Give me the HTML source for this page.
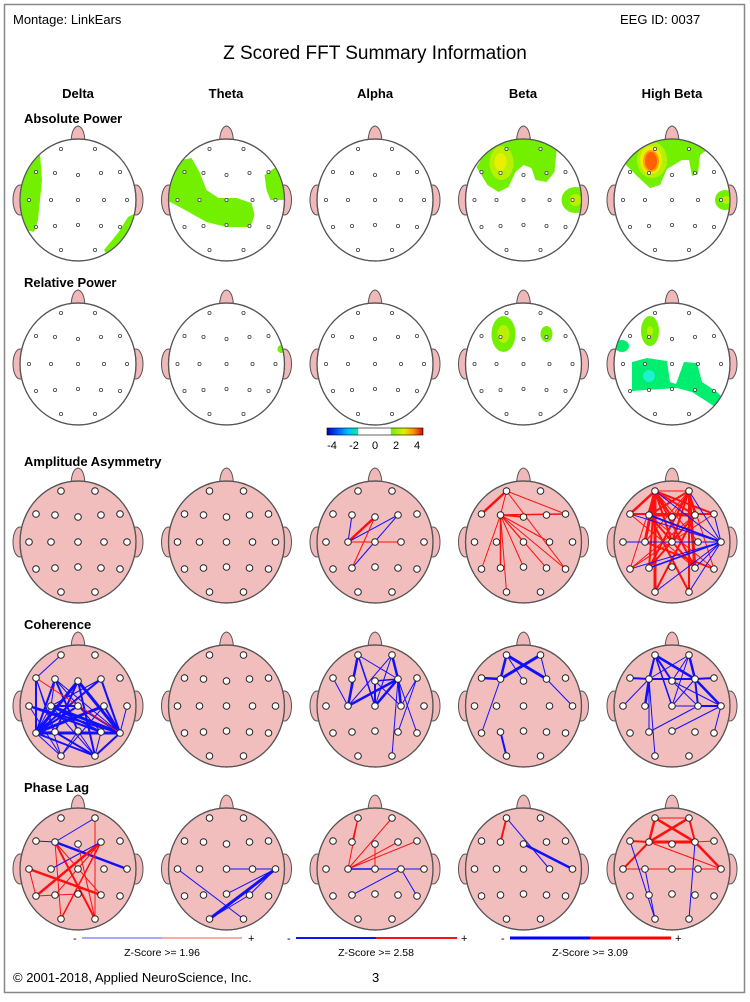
<!DOCTYPE html>
<html><head><meta charset="utf-8">
<style>
html,body{margin:0;padding:0;background:#fff;}
body{width:750px;height:997px;overflow:hidden;font-family:"Liberation Sans",sans-serif;}
</style></head>
<body>
<svg id="s" width="750" height="997" viewBox="0 0 750 997" xmlns="http://www.w3.org/2000/svg" font-family="Liberation Sans, sans-serif">
<rect x="4.5" y="4.5" width="740" height="988" fill="#fff" stroke="#888" stroke-width="1.5"/>
<text x="13" y="24" font-size="13">Montage:  LinkEars</text>
<text x="620" y="24" font-size="13">EEG ID:  0037</text>
<text x="375" y="59" font-size="19" text-anchor="middle">Z Scored FFT Summary Information</text>
<g font-size="13" font-weight="bold" text-anchor="middle">
<text x="78" y="98">Delta</text><text x="226" y="98">Theta</text><text x="375" y="98">Alpha</text><text x="523" y="98">Beta</text><text x="672" y="98">High Beta</text>
</g>
<g font-size="13" font-weight="bold">
<text x="24" y="123">Absolute Power</text>
<text x="24" y="287">Relative Power</text>
<text x="24" y="466">Amplitude Asymmetry</text>
<text x="24" y="629">Coherence</text>
<text x="24" y="792">Phase Lag</text>
</g>
<g id="heads"></g>
<defs><linearGradient id="cb" x1="0" x2="1">
<stop offset="0" stop-color="#0000c8"/><stop offset="0.12" stop-color="#0060ff"/><stop offset="0.22" stop-color="#00c0ff"/><stop offset="0.32" stop-color="#00e8a0"/><stop offset="0.33" stop-color="#fff"/><stop offset="0.66" stop-color="#fff"/><stop offset="0.67" stop-color="#70f000"/><stop offset="0.8" stop-color="#e0f000"/><stop offset="0.9" stop-color="#ff9000"/><stop offset="1" stop-color="#e00000"/>
</linearGradient></defs>
<rect x="327" y="428" width="96" height="7" fill="url(#cb)" stroke="#000" stroke-width="0.6"/>
<g font-size="11" text-anchor="middle"><text x="332" y="449">-4</text><text x="354" y="449">-2</text><text x="375" y="449">0</text><text x="396" y="449">2</text><text x="417" y="449">4</text></g>
<g font-size="11">
<text x="73" y="942">-</text><line x1="82" y1="938" x2="162" y2="938" stroke="#5050ff" stroke-width="1"/><line x1="162" y1="938" x2="242" y2="938" stroke="#ff5050" stroke-width="1"/><text x="248" y="942">+</text>
<text x="162" y="956" text-anchor="middle" font-size="10.5">Z-Score &gt;= 1.96</text>
<text x="287" y="942">-</text><line x1="296" y1="938" x2="376" y2="938" stroke="#1010ff" stroke-width="2"/><line x1="376" y1="938" x2="457" y2="938" stroke="#ff1010" stroke-width="2"/><text x="461" y="942">+</text>
<text x="376" y="956" text-anchor="middle" font-size="10.5">Z-Score &gt;= 2.58</text>
<text x="501" y="942">-</text><line x1="510" y1="938" x2="590" y2="938" stroke="#0000ff" stroke-width="3"/><line x1="590" y1="938" x2="671" y2="938" stroke="#ff0000" stroke-width="3"/><text x="675" y="942">+</text>
<text x="590" y="956" text-anchor="middle" font-size="10.5">Z-Score &gt;= 3.09</text>
</g>
<text x="13" y="982" font-size="13">© 2001-2018, Applied NeuroScience, Inc.</text>
<text x="372" y="982" font-size="13">3</text>
</svg>
<script>
var E=[[-17,-51],[17,-51],[-42,-28],[-23,-27],[0,-25],[23,-27],[42,-28],[-49,0],[-27,0],[0,0],[26,0],[49,0],[-42,27],[-23,26],[0,25],[23,26],[42,27],[-17,50],[17,50]];
var N={Fp1:0,Fp2:1,F7:2,F3:3,Fz:4,F4:5,F8:6,T3:7,C3:8,Cz:9,C4:10,T4:11,T5:12,P3:13,Pz:14,P4:15,T6:16,O1:17,O2:18};
var CX=[78,226.5,375,523.5,672], RX=58, RY=61;
var html='';var cid=0;
function head(cx,cy,pink,inner,conn){
 var f=pink?'#f2bdbd':'#fff';cid++;
 var s='';
 s+='<ellipse cx="'+(cx-RX)+'" cy="'+cy+'" rx="7" ry="15" fill="#f0b8b8" stroke="#555" stroke-width="1"/>';
 s+='<ellipse cx="'+(cx+RX)+'" cy="'+cy+'" rx="7" ry="15" fill="#f0b8b8" stroke="#555" stroke-width="1"/>';
 s+='<path d="M'+(cx-7)+','+(cy-RY+2)+' Q'+(cx-6)+','+(cy-RY-12)+' '+cx+','+(cy-RY-13)+' Q'+(cx+6)+','+(cy-RY-12)+' '+(cx+7)+','+(cy-RY+2)+' Z" fill="#f0b8b8" stroke="#555" stroke-width="1"/>';
 s+='<clipPath id="c'+cid+'"><ellipse cx="'+cx+'" cy="'+cy+'" rx="'+RX+'" ry="'+RY+'"/></clipPath>';
 s+='<ellipse cx="'+cx+'" cy="'+cy+'" rx="'+RX+'" ry="'+RY+'" fill="'+f+'" stroke="#555" stroke-width="1.2"/>';
 s+='<g clip-path="url(#c'+cid+')"><g transform="translate('+cx+','+cy+')">'+(inner||'')+'</g></g>';
 s+='<ellipse cx="'+cx+'" cy="'+cy+'" rx="'+RX+'" ry="'+RY+'" fill="none" stroke="#555" stroke-width="1.2"/>';
 if(conn){
  conn.forEach(function(c){var a=E[N[c[0]]],b=E[N[c[1]]];var col=c[2]=='b'?'#1010ff':'#ff1010';
   s+='<line x1="'+(cx+a[0])+'" y1="'+(cy+a[1])+'" x2="'+(cx+b[0])+'" y2="'+(cy+b[1])+'" stroke="'+col+'" stroke-width="'+c[3]+'"/>';});
 }
 E.forEach(function(e){
  if(pink) s+='<circle cx="'+(cx+e[0])+'" cy="'+(cy+e[1])+'" r="3.3" fill="#fff" stroke="#222" stroke-width="1"/>';
  else s+='<circle cx="'+(cx+e[0])+'" cy="'+(cy+e[1])+'" r="1.6" fill="#fff" stroke="#444" stroke-width="0.8"/>';
 });
 return s;
}
var G='#72f000',Y='#e8f000',LY='#b8f000',O='#ff6000',GC='#00ee70';
function P(d,c){return '<path d="'+d+'" fill="'+c+'"/>';}
function El(x,y,rx,ry,c){return '<ellipse cx="'+x+'" cy="'+y+'" rx="'+rx+'" ry="'+ry+'" fill="'+c+'"/>';}
var abs=[
 P('M-60,-30 L-45,-50 L-38,-46 L-36,-20 L-40,20 L-44,32 L-60,28 Z',G)+P('M60,12 L50,17 L40,33 L26,50 L32,60 L60,42 Z',G),
 P('M-60,-35 L-45,-40 L-35,-42 L-27,-28 L-20,-10 L-8,-2 L10,-2 L25,3 L28,15 L24,27 L0,27 L-20,22 L-45,8 L-60,0 Z',G)+P('M38,-25 L48,-32 L60,-25 L60,0 L44,0 L40,-10 Z',G),
 '',
 P('M-47,-33 L-30,-60 L32,-62 L33,-48 L31,-28 L23,-18 L12,-20 L8,-32 L0,-35 L-8,-28 L-15,-13 L-25,-8 L-36,-15 Z',G)+El(-22,-37,12,17,LY)+El(-23,-38,6,9,Y)+El(52,0,14,13,G)+El(52,0,6,6,LY),
 P('M-47,-36 L-28,-60 L30,-62 L38,-52 L28,-45 L26,-26 L20,-24 L17,-40 L10,-40 L-5,-31 L-12,-15 L-22,-12 L-34,-23 Z',G)+El(-20,-40,15,18,LY)+El(-21,-40,11,14,Y)+El(-21,-39,8,11,'#ffa000')+El(-21,-39,6,9,O)+El(53,0,10,10,G)+El(54,0,4,4,LY)
];
var rel=[
 '',
 El(55,-15,4,4,G),
 '',
 El(-20,-30,12,18,G)+El(-20,-30,6,9,LY)+El(23,-30,6,8,G),
 El(-22,-33,9,15,G)+El(-22,-33,3,5,LY)+El(-50,-18,7,6,GC)+P('M-40,-2 L-25,-6 L-5,-3 L-2,18 L4,20 L12,-2 L25,-1 L30,18 L45,28 L55,38 L45,44 L20,28 L5,24 L-40,27 Z',GC)+El(-23,12,6,6,'#20f0d0')
];
function L(str){return str.trim().split(/\s*;\s*/).filter(Boolean).map(function(x){var p=x.split(/\s+/);return [p[0],p[1],p[2],+p[3]];});}
var asym=[[],[],
 L('C3 F3 b 1;C3 Fz r 2.5;C3 F4 b 1;C3 C4 r 1;P3 F4 b 1;P3 Fz r 1;C3 Cz r 1'),
 L('Fp1 F7 r 2.5;Fp1 F3 r 1;Fp1 F8 r 1;F3 F8 r 1.5;F3 T5 r 1;F3 P3 r 1.5;F3 O1 r 1;F3 Pz r 1;F3 P4 r 1;F3 T6 r 1;F3 C4 r 1;Fp1 T6 r 1;F3 Cz r 1;F3 Fz r 1.5'),
 L('Fp1 F7 r 2.5;Fp1 F3 r 3;Fp1 Fz r 2;Fp1 F4 r 2;Fp1 F8 r 2;Fp1 Fp2 r 1;Fp2 F3 r 2;Fp2 F4 r 2;Fp2 Fz r 1;F7 F8 r 2;F3 F4 r 3;Fp1 C3 r 3;Fp1 P3 r 2;Fp1 O1 r 3;Fp1 T5 r 1;Fp1 Cz r 2;Fp1 C4 r 1;Fp1 P4 r 2;Fp2 O2 r 2;Fp2 P3 r 2;Fp2 C3 r 1;Fp2 Cz r 2;Fp2 P4 r 3;Fp2 T6 r 1;F3 P4 r 2;F3 O2 r 2;F4 P3 r 2;F4 T5 r 1;F4 O1 r 2;F3 T6 r 1;F7 P4 r 1;F8 T5 r 1;C3 T6 r 2;Cz P3 r 1;F7 T4 b 1;F3 T4 b 2;T3 T4 b 1;C3 T4 b 1;P3 T4 b 1.5;O1 T4 b 1;O2 T4 b 1;Fp1 T4 b 1;Fp2 T4 b 1;F8 T4 b 1;T5 T4 b 1;P4 T4 b 1'),
];
var coh=[
 L('Fp1 F7 b 1;F7 T5 b 2;F7 P3 b 1;F7 O1 b 1;F3 T5 b 2;F3 Pz b 2;F3 P4 b 1;F3 T6 b 1;Fz T5 b 3;Fz T6 b 3;Fz O2 b 2;Fz P3 b 2;F4 T5 b 2;F4 T6 b 2;F4 C3 b 1;T3 T6 b 2;T3 P4 b 2;T3 O1 b 1;C3 T6 b 3;C3 P4 b 2;C3 Cz b 2;C3 T5 b 1;C3 O2 b 1;Cz T5 b 2;Cz T6 b 2;C4 T5 b 3;C4 T6 b 2;C4 O1 b 1;T5 T6 b 3;T5 P3 b 2;T5 O2 b 2;T5 O1 b 1;P3 O2 b 2;P3 T6 b 1;Pz O2 b 1;Pz O1 b 1;T6 O2 b 2;P4 O2 b 1;F3 C3 b 1;T4 T6 b 1;F7 T6 r 1'),
 [],
 L('Fp1 C3 b 2.5;Fp1 Cz b 1.5;Fp1 F4 b 1;Fp2 F4 b 2.5;Fp2 C3 b 1;Fp2 Cz b 1;F3 C3 b 1;F7 C3 b 1;Fz Cz b 2;F4 C3 b 2.5;F4 Cz b 2.5;F4 C4 b 2.5;Fz C4 b 1;F8 C4 b 1;F8 P4 b 1;F4 T6 b 1;F4 O2 b 1;Fz F4 b 1.5'),
 L('F7 F3 b 2.5;F3 Fp1 b 2.5;Fp1 F4 b 3;Fp2 F3 b 3;Fp1 Fz b 1;Fp2 F4 b 1;F4 T4 b 1;F3 T5 b 1;P3 O1 b 2'),
 L('Fp1 F3 b 2;Fp1 Fz b 2;Fp1 F4 b 2.5;Fp1 C3 b 1;Fp1 Cz b 1.5;Fp2 F3 b 1;Fp2 Fz b 1;Fp2 F4 b 2.5;Fp2 Cz b 1;F7 F3 b 2;F3 F4 b 2;F4 F8 b 2;F3 C3 b 2.5;F3 T3 b 1;F3 P3 b 1;F3 O1 b 1;F4 C4 b 2;F4 T4 b 2.5;Cz T4 b 1;C4 T4 b 2;Pz T4 b 1;T4 T6 b 1;Fz T4 b 1;Cz F4 b 1;C4 P3 b 1;Fz C4 b 1')
];
var ph=[
 L('Fp2 F3 b 1;F3 T4 b 2.5;F7 F3 b 1;F3 O2 r 2;T3 P4 r 2.5;T5 F4 r 2.5;O1 F4 r 1;Fp2 O2 r 1;F3 O1 r 1;C3 F4 b 1;F4 O1 r 1.5;T3 T5 r 1;F4 P3 r 1;F3 P4 r 1;T5 Pz r 1;Fz O2 r 1'),
 L('Cz T4 b 1;T4 O1 b 3;C4 T4 b 1;T4 P4 b 1;P4 O1 b 1;T3 O2 b 1;Pz T4 b 1'),
 L('Fp1 F3 r 1;C3 Fp1 r 1;C3 Fp2 r 1;C3 F8 r 1;C3 F4 r 1;C3 Cz b 1.5;C3 T4 b 1;C4 P3 b 1;C4 T6 b 1;Fz Cz r 1'),
 L('Fp1 F3 r 2;Fp1 C4 b 1;Fz T4 b 2.5'),
 L('Fp1 F4 r 2.5;Fp2 F3 r 2.5;Fp1 Fp2 r 1;F3 F4 r 3;F7 F3 r 2;F3 T3 r 2;F4 T4 r 2.5;F3 T4 r 1;T3 T4 r 1;Fp1 F3 r 2.5;Fp2 F4 r 2;F7 O1 b 1;C3 O1 b 1;F4 O2 b 1;F4 F8 r 1')
];
for(var i=0;i<5;i++){
 html+=head(CX[i],200,false,abs[i]);
 html+=head(CX[i],364,false,rel[i]);
 html+=head(CX[i],542,true,'',asym[i]);
 html+=head(CX[i],706,true,'',coh[i]);
 html+=head(CX[i],869,true,'',ph[i]);
}
document.getElementById('heads').innerHTML=html;
</script>
</body></html>
